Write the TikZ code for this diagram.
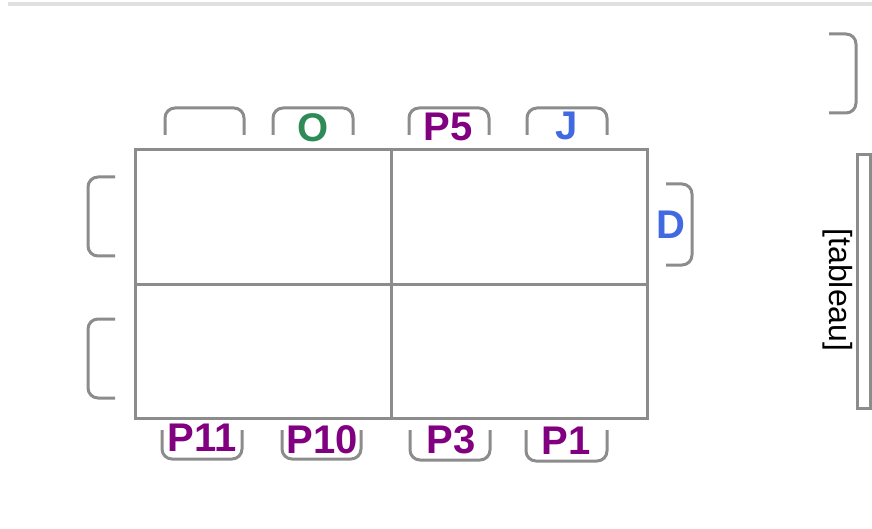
\documentclass[tikz,border=0pt]{standalone}
\usepackage{fontspec}
\setmainfont{Liberation Sans}
\usepackage{tikz}
\definecolor{seatpurple}{RGB}{128,0,128}
\definecolor{seatgreen}{RGB}{46,139,87}
\definecolor{seatblue}{RGB}{65,105,225}
\definecolor{linegray}{RGB}{140,140,140}
\definecolor{rulegray}{RGB}{224,224,224}
\tikzset{
	% ---- default
	every path/.style={line width=3pt},
	every node/.style={font=\fontsize{40}{40}\selectfont\bfseries, inner sep=0pt},
	% ---- custom
	table edge/.style={draw=linegray, line width=3pt},
	chair/.style={draw=linegray, line width=3pt, rounded corners=10pt},
	guest purple/.style={text=seatpurple},
	guest green/.style={text=seatgreen},
	guest blue/.style={text=seatblue},
}

\begin{document}
\begin{tikzpicture}[x=1pt, y=-1pt]

% frame %{{{2

	\useasboundingbox (0,0) rectangle (872,529);
	\draw[rulegray, line width=4pt] (8,4.5) -- (872,4.5);

% coordinates %{{{2

	\coordinate (T1) at (135,150);
	\coordinate (T2) at (647,418);
	\coordinate (Tm) at (391,284);

% table %{{{2

	\draw[table edge] (T1) rectangle (T2);
	\draw[table edge] (Tm |- T1) -- (Tm |- T2);
	\draw[table edge] (Tm -| T1) -- (Tm -| T2);

% chairs top %{{{2

	\draw[chair] (165,135) -- (165,108) -- (244,108) -- (244,135);
	\draw[chair] (273,135) -- (273,108) -- (353,108) -- (353,135);
	\draw[chair] (409,135) -- (409,108) -- (489,108) -- (489,135);
	\draw[chair] (527,135) -- (527,108) -- (607,108) -- (607,135);

% chairs bottom %{{{2

	\draw[chair] (162,430) -- (162,459) -- (242,459) -- (242,430);
	\draw[chair] (282,430) -- (282,459) -- (361,459) -- (361,430);
	\draw[chair] (410,430) -- (410,460) -- (490,460) -- (490,430);
	\draw[chair] (526,430) -- (526,461) -- (607,461) -- (607,430);

% chairs sides %{{{2

	\draw[chair] (115,177) -- (88,177) -- (88,256) -- (115,256);
	\draw[chair] (115,319) -- (88,319) -- (88,398) -- (115,398);
	\draw[chair] (666,184) -- (692,184) -- (692,265) -- (666,265);
	\draw[chair] (829,34) -- (856,34) -- (856,113) -- (829,113);

% tableau %{{{2

	\draw[table edge] (857,155) rectangle (870,408);
	\node[rotate=-90, font=\fontsize{32}{32}\selectfont] (tableau) at (838,290) {[tableau]};

% guests labels %{{{2

	\node[guest green] (O) at (313,128) {O};
	\node[guest purple] (P5) at (448,127) {P5};
	\node[guest blue] (J) at (567,126) {J};
	\node[guest blue] (D) at (671,225) {D};

	\node[guest purple] (P11) at (202,438) {P11};
	\node[guest purple] (P10) at (322,440) {P10};
	\node[guest purple] (P3) at (451,440) {P3};
	\node[guest purple] (P1) at (566,441) {P1};

% closing %{{{2

\end{tikzpicture}
\end{document}
